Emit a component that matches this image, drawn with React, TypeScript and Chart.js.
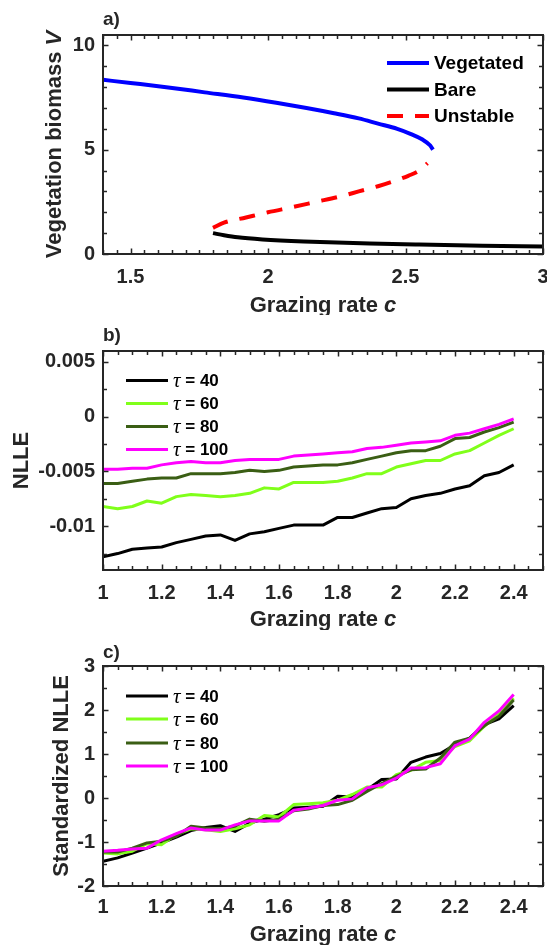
import React, { useEffect, useRef } from "react";
import { Chart, registerables } from "chart.js";

Chart.register(...registerables);

// ---------- Panel a: bifurcation diagram ----------
const vegetatedC = [1.40, 1.50, 1.63, 1.77, 1.91, 2.03, 2.14, 2.24, 2.33, 2.40, 2.47, 2.52, 2.56, 2.59, 2.60];
const vegetatedV = [8.35, 8.20, 8.00, 7.75, 7.50, 7.25, 7.00, 6.75, 6.50, 6.25, 6.00, 5.75, 5.50, 5.20, 5.00];
const bareC = [1.80, 1.84, 1.89, 1.98, 2.13, 2.37, 2.55, 2.78, 3.00];
const bareV = [1.00, 0.90, 0.80, 0.70, 0.60, 0.50, 0.45, 0.40, 0.36];
const unstableC = [1.80, 1.84, 1.92, 2.00, 2.09, 2.175, 2.26, 2.33, 2.40, 2.46, 2.51, 2.55, 2.58];
const unstableV = [1.25, 1.50, 1.75, 2.00, 2.25, 2.50, 2.75, 3.00, 3.25, 3.50, 3.75, 4.00, 4.35];
const aXTicks = [1.5, 2, 2.5, 3];
const aXLabels = ["1.5", "2", "2.5", "3"];
const aYTicks = [0, 5, 10];
const aYLabels = ["0", "5", "10"];

// ---------- Panels b and c: grazing rate grid ----------
const grazingC = [1.00, 1.05, 1.10, 1.15, 1.20, 1.25, 1.30, 1.35, 1.40, 1.45, 1.50, 1.55, 1.60, 1.65, 1.70,
  1.75, 1.80, 1.85, 1.90, 1.95, 2.00, 2.05, 2.10, 2.15, 2.20, 2.25, 2.30, 2.35, 2.40];

const nlleTau40 = [-0.0128, -0.0125, -0.0121, -0.0120, -0.0119, -0.0115, -0.0112, -0.0109, -0.0108, -0.0113,
  -0.0107, -0.0105, -0.0102, -0.0099, -0.0099, -0.0099, -0.0092, -0.0092, -0.0088, -0.0084, -0.0083,
  -0.0075, -0.0072, -0.0070, -0.0066, -0.0063, -0.0054, -0.0051, -0.0044];
const nlleTau60 = [-0.0082, -0.0084, -0.0082, -0.0077, -0.0079, -0.0073, -0.0071, -0.0072, -0.0073, -0.0072,
  -0.0070, -0.0065, -0.0066, -0.0060, -0.0060, -0.0060, -0.0059, -0.0056, -0.0052, -0.0052, -0.0046,
  -0.0043, -0.0040, -0.0040, -0.0034, -0.0031, -0.0024, -0.0017, -0.0011];
const nlleTau80 = [-0.0061, -0.0061, -0.0059, -0.0057, -0.0056, -0.0056, -0.0052, -0.0052, -0.0052, -0.0051,
  -0.0049, -0.0050, -0.0049, -0.0046, -0.0045, -0.0044, -0.0044, -0.0042, -0.0039, -0.0036, -0.0033,
  -0.0031, -0.0031, -0.0027, -0.0020, -0.0019, -0.0014, -0.0010, -0.0005];
const nlleTau100 = [-0.0048, -0.0048, -0.0047, -0.0047, -0.0044, -0.0042, -0.0041, -0.0042, -0.0042, -0.0040,
  -0.0039, -0.0039, -0.0039, -0.0036, -0.0035, -0.0034, -0.0033, -0.0032, -0.0029, -0.0028, -0.0026,
  -0.0024, -0.0023, -0.0022, -0.0017, -0.0015, -0.0011, -0.0007, -0.0002];

const stdTau40 = [-1.44, -1.36, -1.25, -1.14, -1.02, -0.89, -0.74, -0.67, -0.63, -0.76, -0.57, -0.48, -0.38,
  -0.23, -0.21, -0.19, 0.04, 0.02, 0.19, 0.42, 0.43, 0.81, 0.93, 1.01, 1.21, 1.36, 1.67, 1.80, 2.10];
const stdTau60 = [-1.25, -1.27, -1.21, -1.04, -1.06, -0.83, -0.70, -0.72, -0.76, -0.70, -0.61, -0.40, -0.43,
  -0.15, -0.13, -0.11, -0.05, 0.08, 0.25, 0.25, 0.53, 0.63, 0.81, 0.85, 1.17, 1.30, 1.63, 1.93, 2.27];
const stdTau80 = [-1.23, -1.23, -1.14, -1.02, -0.98, -0.87, -0.64, -0.68, -0.70, -0.64, -0.48, -0.53, -0.48,
  -0.29, -0.25, -0.17, -0.15, -0.05, 0.15, 0.33, 0.49, 0.64, 0.66, 0.91, 1.27, 1.36, 1.64, 1.86, 2.23];
const stdTau100 = [-1.21, -1.19, -1.16, -1.14, -0.95, -0.81, -0.68, -0.73, -0.73, -0.61, -0.52, -0.52, -0.52,
  -0.28, -0.23, -0.17, -0.05, -0.02, 0.23, 0.30, 0.45, 0.68, 0.69, 0.78, 1.19, 1.34, 1.72, 1.98, 2.35];

const bcXTicks = [1, 1.2, 1.4, 1.6, 1.8, 2, 2.2, 2.4];
const bcXLabels = ["1", "1.2", "1.4", "1.6", "1.8", "2", "2.2", "2.4"];
const bYTicks = [-0.01, -0.005, 0, 0.005];
const bYLabels = ["-0.01", "-0.005", "0", "0.005"];
const cYTicks = [-2, -1, 0, 1, 2, 3];
const cYLabels = ["-2", "-1", "0", "1", "2", "3"];

const tauLabels = ["τ = 40", "τ = 60", "τ = 80", "τ = 100"];

// ---------- styling ----------
const INK = "#262626";
const SANS = '"Liberation Sans", Arial, Helvetica, sans-serif';
const SERIF = '"Liberation Serif", "Times New Roman", serif';
const C_BLUE = "#0000ff";
const C_BLACK = "#000000";
const C_RED = "#ff0000";
const C_LIME = "#80ff1a";
const C_DKGREEN = "#3a5e14";
const C_MAGENTA = "#ff00ff";

type Part = { text: string; font: string };
type Series = { label: string; xs: number[]; ys: number[]; color: string; dash?: number[] };
type Panel = {
  tag: string;
  series: Series[];
  smooth: boolean;
  lineWidth: number;
  xMin: number; xMax: number; xTicks: number[]; xLabels: string[]; xMinor: number;
  yMin: number; yMax: number; yTicks: number[]; yLabels: string[]; yMinor: number;
  top: number; xHeight: number; xPad: number;
  yTitle: Part[]; yTitleX: number; xTitleDy: number;
  legendX: number; legendRows: number[]; legendBig: boolean;
  tagDy: number;
};

function drawParts(ctx: CanvasRenderingContext2D, parts: Part[], x: number, y: number, align: string) {
  const widths = parts.map((p) => { ctx.font = p.font; return ctx.measureText(p.text).width; });
  const total = widths.reduce((s, w) => s + w, 0);
  let cx = align === "center" ? x - total / 2 : align === "right" ? x - total : x;
  ctx.textAlign = "left";
  ctx.textBaseline = "middle";
  parts.forEach((p, i) => { ctx.font = p.font; ctx.fillText(p.text, cx, y); cx += widths[i]; });
}

function stepValues(min: number, max: number, step: number) {
  const out: number[] = [];
  const k0 = Math.ceil(min / step - 1e-6);
  const k1 = Math.floor(max / step + 1e-6);
  for (let k = k0; k <= k1; k++) out.push(k * step);
  return out;
}

function makeFrame(p: Panel) {
  return {
    id: "frame_" + p.tag,
    afterDatasetsDraw(chart: any) {
      const ctx: CanvasRenderingContext2D = chart.ctx;
      const a = chart.chartArea;
      const xs = chart.scales.x;
      const ys = chart.scales.y;
      ctx.save();
      ctx.strokeStyle = INK;
      ctx.lineWidth = 1.5;
      ctx.beginPath();
      for (const v of stepValues(p.xMin, p.xMax, p.xMinor)) {
        const px = Math.round(xs.getPixelForValue(v)) + 0.5;
        const major = p.xTicks.some((t) => Math.abs(t - v) < p.xMinor * 1e-3);
        const L = major ? 5.5 : 4;
        ctx.moveTo(px, a.bottom); ctx.lineTo(px, a.bottom - L);
        ctx.moveTo(px, a.top); ctx.lineTo(px, a.top + L);
      }
      for (const v of stepValues(p.yMin, p.yMax, p.yMinor)) {
        const py = Math.round(ys.getPixelForValue(v)) + 0.5;
        const major = p.yTicks.some((t) => Math.abs(t - v) < p.yMinor * 1e-3);
        const L = major ? 5.5 : 4;
        ctx.moveTo(a.left, py); ctx.lineTo(a.left + L, py);
        ctx.moveTo(a.right, py); ctx.lineTo(a.right - L, py);
      }
      ctx.stroke();
      ctx.lineWidth = 2;
      ctx.strokeRect(a.left, a.top, a.right - a.left, a.bottom - a.top);
      ctx.restore();
    },
    afterDraw(chart: any) {
      const ctx: CanvasRenderingContext2D = chart.ctx;
      const a = chart.chartArea;
      ctx.save();
      ctx.fillStyle = INK;
      // panel tag
      drawParts(ctx, [{ text: p.tag + ")", font: `bold 19px ${SANS}` }], a.left, a.top + p.tagDy, "left");
      // x title
      drawParts(ctx, [
        { text: "Grazing rate ", font: `bold 22px ${SANS}` },
        { text: "c", font: `italic bold 22px ${SANS}` },
      ], (a.left + a.right) / 2, a.bottom + p.xTitleDy, "center");
      // y title
      ctx.save();
      ctx.translate(p.yTitleX, (a.top + a.bottom) / 2);
      ctx.rotate(-Math.PI / 2);
      drawParts(ctx, p.yTitle, 0, 0, "center");
      ctx.restore();
      // legend
      chart.data.datasets.forEach((ds: any, i: number) => {
        const y = a.top + p.legendRows[i];
        ctx.save();
        ctx.strokeStyle = ds.borderColor;
        ctx.lineWidth = ds.borderWidth;
        ctx.setLineDash(ds.borderDash || []);
        ctx.beginPath();
        ctx.moveTo(p.legendX, y);
        ctx.lineTo(p.legendX + 42, y);
        ctx.stroke();
        ctx.restore();
        const label: string = ds.label;
        const tx = p.legendX + 47;
        ctx.fillStyle = "#000000";
        if (label.startsWith("τ")) {
          drawParts(ctx, [
            { text: "τ", font: `italic 21px ${SERIF}` },
            { text: label.slice(1), font: `bold 17px ${SANS}` },
          ], tx, y + 1, "left");
        } else {
          drawParts(ctx, [{ text: label, font: `bold 19px ${SANS}` }], tx, y + 1, "left");
        }
      });
      ctx.restore();
    },
  };
}

function makeConfig(p: Panel): any {
  const n = p.series.length;
  return {
    type: "scatter",
    data: {
      datasets: p.series.map((s, i) => ({
        label: s.label,
        data: s.xs.map((x, j) => ({ x, y: s.ys[j] })),
        borderColor: s.color,
        backgroundColor: s.color,
        borderWidth: p.lineWidth,
        borderDash: s.dash || [],
        borderCapStyle: "butt",
        borderJoinStyle: "round",
        showLine: true,
        pointRadius: 0,
        pointHoverRadius: 0,
        fill: false,
        tension: 0,
        cubicInterpolationMode: p.smooth ? "monotone" : "default",
        order: n - i,
      })),
    },
    options: {
      responsive: false,
      maintainAspectRatio: false,
      animation: false,
      devicePixelRatio: 1,
      events: [],
      layout: { padding: { top: p.top, right: 4, left: 0, bottom: 0 } },
      plugins: { legend: { display: false }, tooltip: { enabled: false }, title: { display: false } },
      scales: {
        x: {
          type: "linear",
          min: p.xMin,
          max: p.xMax,
          afterBuildTicks: (s: any) => { s.ticks = p.xTicks.map((v) => ({ value: v })); },
          afterFit: (s: any) => {
            s.height = p.xHeight;
            s.paddingLeft = 0; s.paddingRight = 0; s.paddingTop = 0; s.paddingBottom = 0;
          },
          ticks: {
            autoSkip: false, maxRotation: 0, minRotation: 0, padding: p.xPad, color: INK,
            font: { family: SANS, size: 20, weight: "bold" },
            callback: (v: number) => {
              const k = p.xTicks.findIndex((t) => Math.abs(t - v) < 1e-9);
              return k >= 0 ? p.xLabels[k] : "";
            },
          },
          grid: { display: false, drawTicks: false },
          border: { display: false },
        },
        y: {
          type: "linear",
          min: p.yMin,
          max: p.yMax,
          afterBuildTicks: (s: any) => { s.ticks = p.yTicks.map((v) => ({ value: v })); },
          afterFit: (s: any) => {
            s.width = 103;
            s.paddingLeft = 0; s.paddingRight = 0; s.paddingTop = 0; s.paddingBottom = 0;
          },
          ticks: {
            autoSkip: false, padding: 8, color: INK,
            font: { family: SANS, size: 20, weight: "bold" },
            callback: (v: number) => {
              const k = p.yTicks.findIndex((t) => Math.abs(t - v) < 1e-12);
              return k >= 0 ? p.yLabels[k] : "";
            },
          },
          grid: { display: false, drawTicks: false },
          border: { display: false },
        },
      },
    },
    plugins: [makeFrame(p)],
  };
}

const panelA: Panel = {
  tag: "a",
  series: [
    { label: "Vegetated", xs: vegetatedC, ys: vegetatedV, color: C_BLUE },
    { label: "Bare", xs: bareC, ys: bareV, color: C_BLACK },
    { label: "Unstable", xs: unstableC, ys: unstableV, color: C_RED, dash: [16, 12] },
  ],
  smooth: true,
  lineWidth: 4,
  xMin: 1.4, xMax: 3, xTicks: aXTicks, xLabels: aXLabels, xMinor: 0.05,
  yMin: 0, yMax: 10.5, yTicks: aYTicks, yLabels: aYLabels, yMinor: 1,
  top: 35, xHeight: 61, xPad: 11,
  yTitle: [
    { text: "Vegetation biomass ", font: `bold 22px ${SANS}` },
    { text: "V", font: `italic bold 22px ${SANS}` },
  ],
  yTitleX: 55, xTitleDy: 52,
  legendX: 387, legendRows: [28, 54.5, 81], legendBig: true,
  tagDy: -15,
};

const panelB: Panel = {
  tag: "b",
  series: [
    { label: tauLabels[0], xs: grazingC, ys: nlleTau40, color: C_BLACK },
    { label: tauLabels[1], xs: grazingC, ys: nlleTau60, color: C_LIME },
    { label: tauLabels[2], xs: grazingC, ys: nlleTau80, color: C_DKGREEN },
    { label: tauLabels[3], xs: grazingC, ys: nlleTau100, color: C_MAGENTA },
  ],
  smooth: false,
  lineWidth: 3,
  xMin: 1, xMax: 2.5, xTicks: bcXTicks, xLabels: bcXLabels, xMinor: 0.05,
  yMin: -0.014, yMax: 0.006, yTicks: bYTicks, yLabels: bYLabels, yMinor: 0.0025,
  top: 36, xHeight: 60, xPad: 11,
  yTitle: [{ text: "NLLE", font: `bold 22px ${SANS}` }],
  yTitleX: 22, xTitleDy: 50,
  legendX: 126, legendRows: [29.5, 52.5, 75.5, 98.5], legendBig: false,
  tagDy: -15,
};

const panelC: Panel = {
  tag: "c",
  series: [
    { label: tauLabels[0], xs: grazingC, ys: stdTau40, color: C_BLACK },
    { label: tauLabels[1], xs: grazingC, ys: stdTau60, color: C_LIME },
    { label: tauLabels[2], xs: grazingC, ys: stdTau80, color: C_DKGREEN },
    { label: tauLabels[3], xs: grazingC, ys: stdTau100, color: C_MAGENTA },
  ],
  smooth: false,
  lineWidth: 3,
  xMin: 1, xMax: 2.5, xTicks: bcXTicks, xLabels: bcXLabels, xMinor: 0.05,
  yMin: -2, yMax: 3, yTicks: cYTicks, yLabels: cYLabels, yMinor: 0.5,
  top: 36, xHeight: 59, xPad: 9,
  yTitle: [{ text: "Standardized NLLE", font: `bold 22px ${SANS}` }],
  yTitleX: 62, xTitleDy: 49,
  legendX: 126, legendRows: [30, 53, 77, 100], legendBig: false,
  tagDy: -13,
};

export default function App() {
  const refA = useRef<HTMLCanvasElement>(null);
  const refB = useRef<HTMLCanvasElement>(null);
  const refC = useRef<HTMLCanvasElement>(null);

  useEffect(() => {
    const charts: Chart[] = [];
    if (refA.current) charts.push(new Chart(refA.current, makeConfig(panelA)));
    if (refB.current) charts.push(new Chart(refB.current, makeConfig(panelB)));
    if (refC.current) charts.push(new Chart(refC.current, makeConfig(panelC)));
    return () => charts.forEach((c) => c.destroy());
  }, []);

  const cs: React.CSSProperties = { position: "absolute", left: 0, width: 547, height: 315, display: "block" };
  return (
    <div style={{ position: "absolute", left: 0, top: 0, width: 547, height: 945, background: "#ffffff", overflow: "hidden" }}>
      <canvas ref={refA} width={547} height={315} style={{ ...cs, top: 0 }} />
      <canvas ref={refB} width={547} height={315} style={{ ...cs, top: 315 }} />
      <canvas ref={refC} width={547} height={315} style={{ ...cs, top: 630 }} />
    </div>
  );
}
